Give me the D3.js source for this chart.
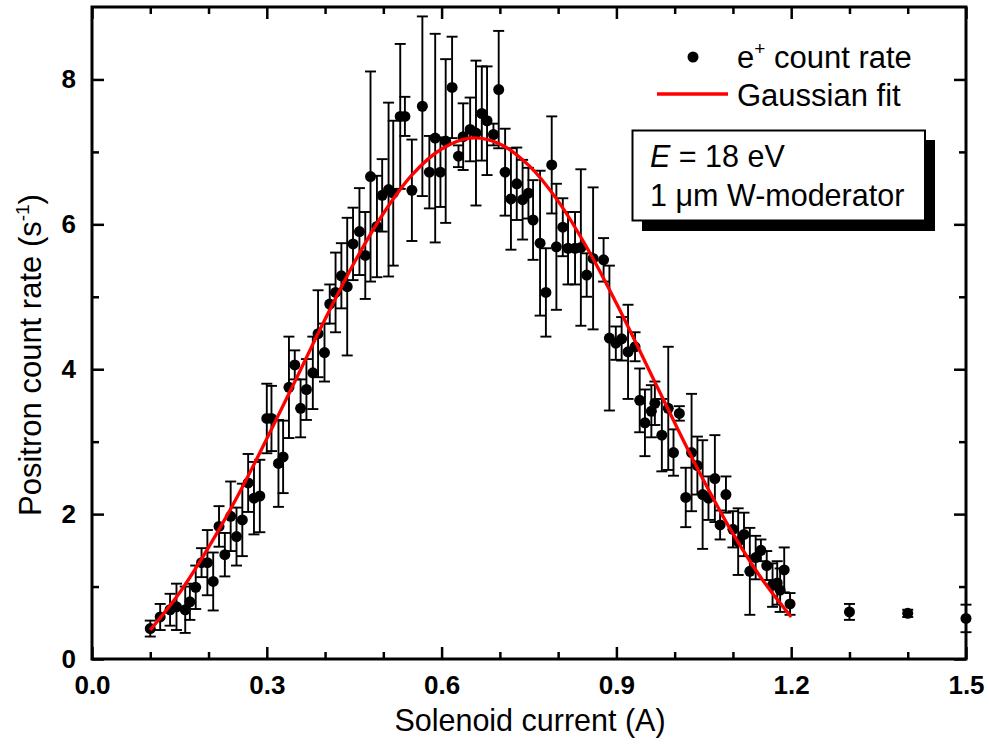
<!DOCTYPE html>
<html><head><meta charset="utf-8">
<script src="https://cdn.jsdelivr.net/npm/d3@7/dist/d3.min.js"></script>
<style>body{margin:0;background:#fff}svg{display:block}text{font-family:Arial,"Liberation Sans",sans-serif}</style>
</head><body><svg id="c" width="989" height="751"></svg>
<script>
const current = [0.100,0.117,0.134,0.145,0.160,0.168,0.178,0.188,0.198,0.208,0.218,0.228,0.238,0.248,0.258,0.268,0.278,0.288,0.300,0.308,0.320,0.328,0.338,0.348,0.358,0.368,0.379,0.388,0.399,0.408,0.418,0.428,0.438,0.448,0.459,0.469,0.478,0.489,0.498,0.509,0.517,0.529,0.537,0.549,0.567,0.579,0.589,0.598,0.607,0.618,0.629,0.637,0.649,0.659,0.669,0.678,0.689,0.698,0.709,0.719,0.729,0.739,0.749,0.757,0.769,0.779,0.789,0.797,0.808,0.817,0.829,0.839,0.849,0.860,0.878,0.888,0.899,0.909,0.920,0.932,0.940,0.949,0.960,0.966,0.978,0.989,0.998,1.008,1.019,1.029,1.039,1.048,1.058,1.069,1.078,1.088,1.100,1.109,1.119,1.129,1.139,1.148,1.158,1.168,1.176,1.181,1.188,1.198,1.30,1.40,1.50];
const rate = [0.42,0.58,0.68,0.72,0.68,0.79,0.99,1.33,1.33,1.07,1.83,1.44,1.97,1.69,1.92,2.43,2.22,2.25,3.32,3.32,2.70,2.79,3.75,4.06,3.46,3.72,3.95,4.49,4.23,4.90,5.06,5.29,5.14,5.73,5.90,5.57,6.66,5.97,6.40,6.48,6.43,7.49,7.49,6.47,7.63,6.72,7.19,6.72,7.15,7.89,6.94,7.21,7.31,7.26,7.53,7.43,7.24,7.86,6.72,6.35,6.56,6.34,6.43,6.06,5.74,5.06,6.82,5.69,5.96,5.67,5.67,5.68,5.30,5.53,5.51,4.43,4.36,4.42,4.24,4.31,3.57,3.26,3.42,3.53,3.09,3.46,2.85,3.39,2.23,2.85,2.67,2.27,2.22,2.49,1.85,2.27,1.79,1.62,1.72,1.21,1.40,1.50,1.29,1.02,1.05,0.95,1.23,0.76,0.65,0.63,0.56];
const rateErr = [0.11,0.18,0.22,0.32,0.32,0.25,0.30,0.20,0.45,0.40,0.28,0.30,0.48,0.40,0.50,0.40,0.50,0.50,0.48,0.45,0.60,0.50,0.70,0.20,0.40,0.42,0.50,0.60,0.40,0.27,0.55,0.45,0.95,0.50,0.60,0.60,1.45,0.70,0.50,1.20,1.00,1.00,0.27,0.70,1.24,0.50,1.44,0.48,1.13,0.70,0.15,0.46,0.44,1.00,0.65,0.75,0.15,0.81,0.60,0.70,0.50,0.55,0.35,0.55,1.00,0.61,0.67,0.87,0.40,0.50,0.50,1.08,0.30,0.98,0.30,1.00,0.23,0.30,0.65,0.20,0.44,0.46,0.36,0.30,0.50,0.85,0.32,0.10,0.41,0.81,0.40,0.75,0.30,0.60,0.20,0.25,0.25,0.46,0.30,0.60,0.30,0.15,0.20,0.30,0.30,0.30,0.31,0.15,0.11,0.05,0.19];
const fitCurrent = [0.10,0.15,0.20,0.25,0.30,0.35,0.40,0.45,0.50,0.55,0.60,0.65,0.70,0.75,0.80,0.85,0.90,0.95,1.00,1.05,1.10,1.15,1.20];
const fitRate = [0.40,0.91,1.54,2.25,3.04,3.86,4.69,5.47,6.15,6.69,7.04,7.19,7.11,6.81,6.32,5.67,4.91,4.09,3.26,2.46,1.73,1.10,0.58];
const xMajor = [0,0.3,0.6,0.9,1.2,1.5];
const xMinor = [0.1,0.2,0.4,0.5,0.7,0.8,1.0,1.1,1.3,1.4];
const yMajor = [0,2,4,6,8];
const yMinor = [1,3,5,7];

const svg = d3.select("#c");
const L=92,R=966,T=7,B=659;
const x = d3.scaleLinear().domain([0,1.5]).range([L,R]);
const y = d3.scaleLinear().domain([0,9]).range([B,T]);

function axisG(axis, tx, ty, labels){
  const g = svg.append("g").attr("transform",`translate(${tx},${ty})`).call(axis);
  g.select(".domain").remove();
  g.selectAll(".tick line").attr("stroke","#000").attr("stroke-width",2.5);
  if(!labels) g.selectAll(".tick text").remove();
  else g.selectAll(".tick text").attr("font-size",26).attr("font-weight","bold").attr("font-family","Arial, Liberation Sans, sans-serif").attr("fill","#000");
  return g;
}
axisG(d3.axisBottom(x).tickValues(xMajor).tickSizeInner(-12).tickSizeOuter(0).tickPadding(17).tickFormat(d3.format(".1f")),0,B,true);
axisG(d3.axisBottom(x).tickValues(xMinor).tickSizeInner(-7).tickSizeOuter(0),0,B,false);
axisG(d3.axisTop(x).tickValues(xMajor).tickSizeInner(-12).tickSizeOuter(0),0,T,false);
axisG(d3.axisTop(x).tickValues(xMinor).tickSizeInner(-7).tickSizeOuter(0),0,T,false);
axisG(d3.axisLeft(y).tickValues(yMajor).tickSizeInner(-12).tickSizeOuter(0).tickPadding(16).tickFormat(d3.format("d")),L,0,true);
axisG(d3.axisLeft(y).tickValues(yMinor).tickSizeInner(-7).tickSizeOuter(0),L,0,false);
axisG(d3.axisRight(y).tickValues(yMajor).tickSizeInner(-12).tickSizeOuter(0),R,0,false);
axisG(d3.axisRight(y).tickValues(yMinor).tickSizeInner(-7).tickSizeOuter(0),R,0,false);

const data = current.map((c,i)=>({c, r:rate[i], e:rateErr[i]}));
const eb = svg.append("g").attr("stroke","#000").attr("stroke-width",1.9);
data.forEach(d=>{
  const x0=x(d.c), y1=y(d.r+d.e), y2=y(d.r-d.e);
  eb.append("line").attr("x1",x0).attr("x2",x0).attr("y1",y1).attr("y2",y2);
  eb.append("line").attr("x1",x0-5.5).attr("x2",x0+5.5).attr("y1",y1).attr("y2",y1);
  eb.append("line").attr("x1",x0-5.5).attr("x2",x0+5.5).attr("y1",y2).attr("y2",y2);
});
svg.append("g").selectAll("circle").data(data).join("circle")
  .attr("cx",d=>x(d.c)).attr("cy",d=>y(d.r)).attr("r",5.5).attr("fill","#000");

const fit = fitCurrent.map((c,i)=>[c,fitRate[i]]);
svg.append("path").datum(fit)
  .attr("d", d3.line().x(d=>x(d[0])).y(d=>y(d[1])).curve(d3.curveCatmullRom))
  .attr("fill","none").attr("stroke","#ff0000").attr("stroke-width",3.3);

svg.append("rect").attr("x",L).attr("y",T).attr("width",R-L).attr("height",B-T)
  .attr("fill","none").attr("stroke","#000").attr("stroke-width",3);

svg.append("text").attr("x",530).attr("y",731).attr("text-anchor","middle")
  .attr("font-size",30.5).text("Solenoid current (A)");
const yt = svg.append("text").attr("transform",`translate(41,355) rotate(-90)`)
  .attr("text-anchor","middle").attr("font-size",31);
yt.append("tspan").text("Positron count rate (s");
yt.append("tspan").attr("font-size",19).attr("dy",-12).text("-1");
yt.append("tspan").attr("dy",12).text(")");

svg.append("circle").attr("cx",693).attr("cy",57).attr("r",5.5).attr("fill","#000");
const lt = svg.append("text").attr("x",737).attr("y",68).attr("font-size",31);
lt.append("tspan").text("e");
lt.append("tspan").attr("font-size",19).attr("dy",-13).text("+");
lt.append("tspan").attr("dy",13).text(" count rate");
svg.append("line").attr("x1",657).attr("x2",728).attr("y1",94).attr("y2",94).attr("stroke","#ff0000").attr("stroke-width",3.3);
svg.append("text").attr("x",737).attr("y",106).attr("font-size",31).text("Gaussian fit");

svg.append("rect").attr("x",642).attr("y",140).attr("width",293).attr("height",91).attr("fill","#000");
svg.append("rect").attr("x",632.5).attr("y",130.5).attr("width",292.5).attr("height",90).attr("fill","#fff").attr("stroke","#000").attr("stroke-width",2);
const t1 = svg.append("text").attr("x",650).attr("y",167).attr("font-size",30.5);
t1.append("tspan").attr("font-style","italic").text("E");
t1.append("tspan").text(" = 18 eV");
svg.append("text").attr("x",650).attr("y",206).attr("font-size",30.5).text("1 \u03bcm W-moderator");
</script></body></html>
